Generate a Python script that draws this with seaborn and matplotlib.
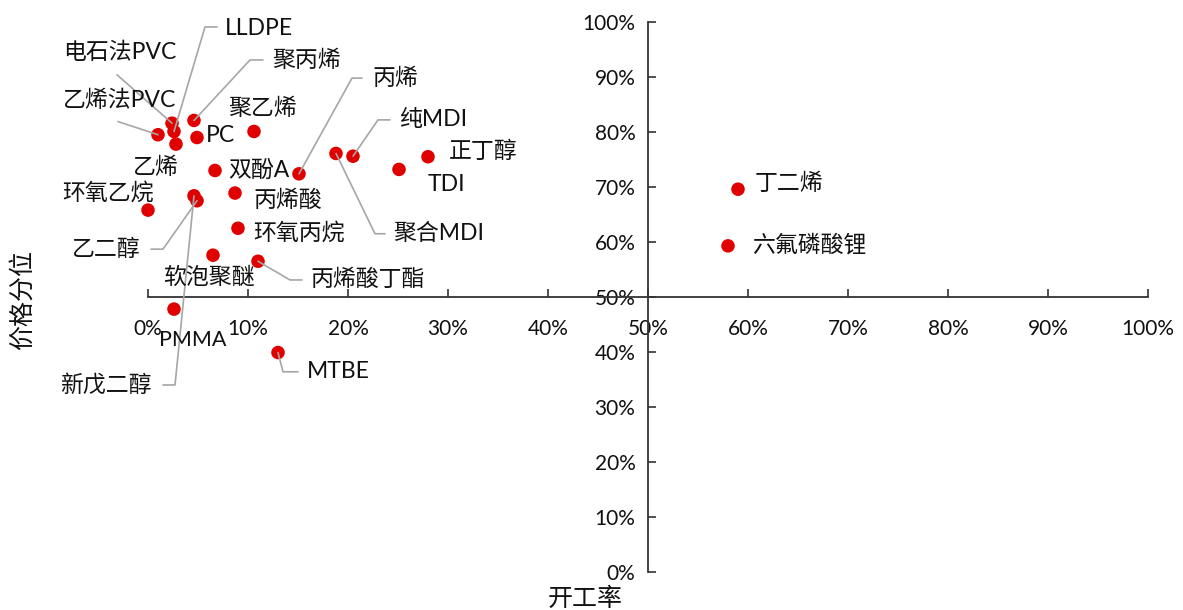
import numpy as np
import pandas as pd
import matplotlib
matplotlib.use("Agg")
import matplotlib.pyplot as plt
import seaborn as sns
from matplotlib.ticker import FuncFormatter

# 数据：开工率 / 价格分位 (%)
names = ["电石法PVC", "乙烯法PVC", "LLDPE", "乙烯", "聚丙烯", "PC", "聚乙烯", "丙烯",
         "双酚A", "聚合MDI", "纯MDI", "环氧乙烷", "乙二醇", "新戊二醇", "丙烯酸",
         "环氧丙烷", "软泡聚醚", "丙烯酸丁酯", "PMMA", "MTBE", "TDI", "正丁醇",
         "丁二烯", "六氟磷酸锂"]
utilization = [2.4, 1.0, 2.6, 2.8, 4.6, 4.9, 10.6, 15.1,
               6.7, 18.8, 20.5, 0.0, 4.9, 4.6, 8.7,
               9.0, 6.5, 11.0, 2.6, 13.0, 25.1, 28.0,
               59.0, 58.0]
price_pct = [81.6, 79.5, 80.1, 77.8, 82.1, 79.0, 80.1, 72.4,
             73.0, 76.1, 75.6, 65.8, 67.5, 68.4, 68.9,
             62.5, 57.6, 56.5, 47.8, 39.9, 73.2, 75.5,
             69.6, 59.3]
ticks = list(range(0, 101, 10))

# 标签位置（左边界, 垂直居中），以及引导线折点
label_pos = {
    "电石法PVC": (-8.5, 94.4), "乙烯法PVC": (-8.5, 85.8), "LLDPE": (7.7, 98.9),
    "聚丙烯": (12.4, 93.1), "聚乙烯": (8.0, 84.3), "PC": (5.8, 79.3),
    "乙烯": (-1.5, 73.5), "双酚A": (8.0, 73.1), "环氧乙烷": (-8.6, 68.9),
    "乙二醇": (-7.6, 58.7), "新戊二醇": (-8.8, 34.0), "PMMA": (1.1, 42.2),
    "软泡聚醚": (1.5, 53.6), "丙烯酸": (10.5, 67.6), "环氧丙烷": (10.5, 61.6),
    "丙烯酸丁酯": (16.2, 53.3), "MTBE": (15.9, 36.4), "丙烯": (22.4, 89.8),
    "纯MDI": (25.1, 82.2), "聚合MDI": (24.5, 61.5), "正丁醇": (30.1, 76.5),
    "TDI": (28.0, 70.5), "丁二烯": (60.7, 70.7), "六氟磷酸锂": (60.4, 59.5),
}
leaders = {
    "电石法PVC": [(-3.1, 90.4)],
    "乙烯法PVC": [(-3.0, 81.9)],
    "LLDPE": [(5.7, 99.1), (6.9, 99.1)],
    "聚丙烯": [(10.2, 93.1), (11.5, 93.1)],
    "乙二醇": [(1.5, 58.7), (0.3, 58.7)],
    "新戊二醇": [(2.7, 34.0), (1.5, 34.0)],
    "丙烯酸丁酯": [(14.2, 53.1), (15.4, 53.1)],
    "MTBE": [(13.5, 36.4), (15.0, 36.4)],
    "丙烯": [(20.4, 89.8), (21.4, 89.8)],
    "纯MDI": [(23.0, 82.2), (24.2, 82.2)],
    "聚合MDI": [(22.7, 61.5), (23.7, 61.5)],
}

df = pd.DataFrame({"name": names, "x": utilization, "y": price_pct})

sns.set_theme(style="white")
plt.rcParams["font.family"] = ["Lato", "Noto Sans CJK SC", "DejaVu Sans"]
plt.rcParams["axes.unicode_minus"] = False

fig = plt.figure(figsize=(11.83, 6.10), dpi=100)
ax = fig.add_axes([148 / 1183, 38 / 610, 1000 / 1183, 550 / 610])

sns.scatterplot(data=df, x="x", y="y", ax=ax, color="#e00000", s=95,
                edgecolor="none", zorder=2, legend=False, clip_on=False)

# 引导线
for name, pts in leaders.items():
    row = df[df["name"] == name].iloc[0]
    xs = [row["x"]] + [p[0] for p in pts]
    ys = [row["y"]] + [p[1] for p in pts]
    ax.plot(xs, ys, color="#a6a6a6", lw=1.2, zorder=3, clip_on=False)

for name, (tx, ty) in label_pos.items():
    fs = 15.5 if name == "PMMA" else 16.5
    ax.text(tx, ty, name, fontsize=fs, color="#111111", ha="left", va="center",
            clip_on=False, zorder=4)

ax.set_xlim(0, 100)
ax.set_ylim(0, 100)
ax.set_xticks(ticks)
ax.set_yticks(ticks)
pct = FuncFormatter(lambda v, _: f"{v:.0f}%")
ax.xaxis.set_major_formatter(pct)
ax.yaxis.set_major_formatter(pct)

ax.spines["left"].set_position(("data", 50))
ax.spines["bottom"].set_position(("data", 50))
ax.spines["right"].set_visible(False)
ax.spines["top"].set_visible(False)
for s in ["left", "bottom"]:
    ax.spines[s].set_color("#333333")
    ax.spines[s].set_linewidth(1.3)

ax.tick_params(axis="x", direction="in", length=6, width=1.2, color="#333333",
               pad=16, labelsize=15, labelcolor="#111111", bottom=True)
ax.tick_params(axis="y", direction="in", length=6, width=1.2, color="#333333",
               pad=9, labelsize=15, labelcolor="#111111", left=True)
ax.set_xlabel("")
ax.set_ylabel("")
ax.patch.set_alpha(0)

fig.text(585 / 1183, 1 - 598 / 610, "开工率", fontsize=18, ha="center",
         va="center", color="#111111")
fig.text(22 / 1183, 1 - 300 / 610, "价格分位", fontsize=18, ha="center",
         va="center", rotation=90, color="#111111")

fig.savefig("out.png", dpi=100, facecolor="white")
